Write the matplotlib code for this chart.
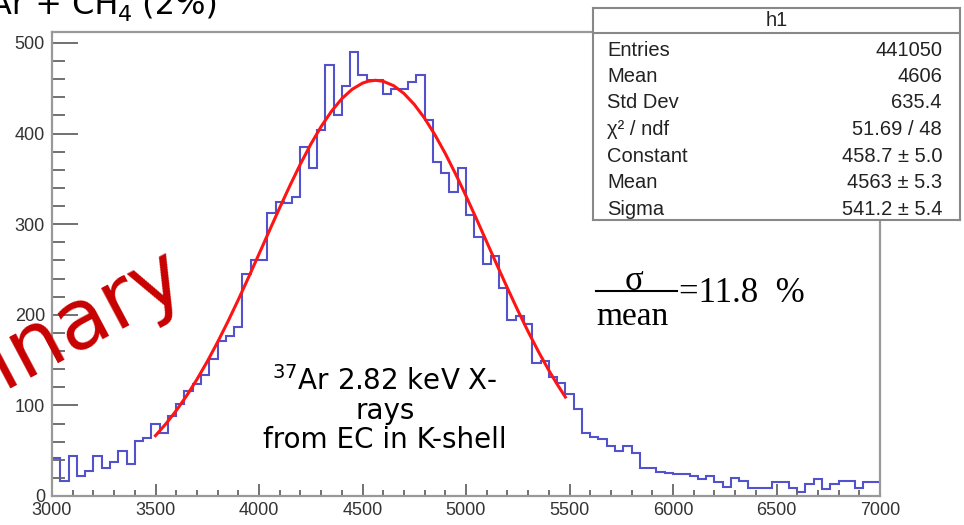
import numpy as np
import matplotlib.pyplot as plt
from matplotlib.lines import Line2D
from matplotlib.ticker import MultipleLocator

# histograma h1: 100 bins de 40 entre 3000 y 7000
bin_lo, bin_hi, n_bins = 3000, 7000, 100
counts = [42, 17, 44, 22, 28, 44, 31, 38, 50, 35,
          61, 64, 80, 70, 88, 102, 116, 124, 133, 151,
          171, 177, 186, 245, 260, 260, 312, 324, 323, 330,
          385, 362, 404, 476, 420, 452, 490, 465, 459, 459,
          444, 449, 449, 457, 465, 415, 369, 356, 335, 362,
          310, 286, 256, 265, 230, 194, 199, 190, 147, 149,
          131, 125, 113, 96, 70, 65, 63, 55, 50, 55,
          48, 31, 31, 26, 25, 24, 24, 22, 19, 22,
          15, 10, 20, 17, 9, 9, 9, 16, 16, 9,
          4, 13, 19, 8, 13, 17, 17, 9, 15, 16]

# curva del ajuste
fit_x = [3500, 3550, 3600, 3650, 3700, 3750, 3800, 3850, 3900, 3950,
         4000, 4050, 4100, 4150, 4200, 4250, 4300, 4350, 4400, 4450,
         4500, 4530, 4563, 4600, 4650, 4700, 4750, 4800, 4850, 4900,
         4950, 5000, 5050, 5100, 5150, 5200, 5250, 5300, 5350, 5400,
         5440, 5480]
fit_y = [66.6, 79.6, 94.2, 110.5, 128.6, 148.4, 169.8, 192.6, 216.6, 241.5,
         267.0, 292.7, 318.1, 342.8, 366.3, 388.1, 407.6, 424.5, 438.4, 448.8,
         455.6, 457.8, 458.7, 457.6, 452.8, 444.2, 432.1, 416.8, 398.5, 377.9,
         355.2, 331.1, 306.0, 280.4, 254.7, 229.5, 204.9, 181.5, 159.3, 138.7,
         123.4, 109.2]

stat_labels = ['Entries', 'Mean', 'Std Dev', 'χ² / ndf', 'Constant', 'Mean', 'Sigma']
stat_values = ['441050', '4606', '635.4', '51.69 / 48', '458.7 ± 5.0', '4563 ± 5.3', '541.2 ± 5.4']

x_ticks = [3000, 3500, 4000, 4500, 5000, 5500, 6000, 6500, 7000]
y_ticks = [0, 100, 200, 300, 400, 500]

W, H = 964, 525
fig = plt.figure(figsize=(W / 100, H / 100), dpi=100)

# Marco principal
ax = fig.add_axes([52 / W, 1 - 496 / H, 828 / W, 464 / H])
edges = np.linspace(bin_lo, bin_hi, n_bins + 1)
ax.stairs(counts, edges, baseline=None, color='#5252cc', lw=1.5)
ax.plot(fit_x, fit_y, color='#ff1414', lw=2.2)

ax.set_xlim(3000, 7000)
ax.set_ylim(0, 512)
ax.set_xticks(x_ticks)
ax.set_yticks(y_ticks)
ax.xaxis.set_minor_locator(MultipleLocator(100))
ax.yaxis.set_minor_locator(MultipleLocator(20))
ax.tick_params(axis='y', which='major', direction='in', length=19, width=1.3, color='#666',
               labelsize=13, labelcolor='#333', pad=5)
ax.tick_params(axis='y', which='minor', direction='in', length=9, width=1.3, color='#666')
ax.tick_params(axis='x', which='major', direction='in', length=9, width=1.3, color='#666',
               labelsize=13, labelcolor='#333', pad=4)
ax.tick_params(axis='x', which='minor', direction='in', length=4.5, width=1.3, color='#666')
for lab in ax.get_xticklabels() + ax.get_yticklabels():
    lab.set_fontfamily('Liberation Sans')
for s in ax.spines.values():
    s.set_color('#999')
    s.set_linewidth(1.6)

# Titulo (cortado arriba), subindice a mano para bajarlo un poco
renderer = fig.canvas.get_renderer()
t_end = fig.text(218 / W, 1 - 14 / H, ' (2%)', ha='right', va='baseline', fontsize=23)
x_px = 218 - t_end.get_window_extent(renderer).width
t_sub = fig.text(x_px / W, 1 - 21 / H, '4', ha='right', va='baseline', fontsize=16)
x_px -= t_sub.get_window_extent(renderer).width
fig.text(x_px / W, 1 - 14 / H, 'Ar + CH', ha='right', va='baseline', fontsize=23)

# Preliminary
fig.text(190 / W, 1 - 289 / H, 'Preliminary', color='#c80000', fontsize=60,
         rotation=28, rotation_mode='anchor', ha='right', va='baseline')

# Texto de la fuente
fig.text(385 / W, 1 - 410 / H, '$^{37}$Ar 2.82 keV X-\nrays\nfrom EC in K-shell',
         ha='center', va='center', multialignment='center', fontsize=20, linespacing=1.05)

# sigma / mean
serif = 'Liberation Serif'
fig.text(634 / W, 1 - 290 / H, 'σ', family=serif, fontsize=25, ha='center', va='baseline')
fig.text(632 / W, 1 - 325 / H, 'mean', family=serif, fontsize=24, ha='center', va='baseline')
fig.add_artist(Line2D([596 / W, 677 / W], [1 - 291 / H, 1 - 291 / H], color='black', lw=1.5))
fig.text(679 / W, 1 - 302 / H, '=11.8  %', family=serif, fontsize=25, ha='left', va='baseline')

# Caja de estadisticas
st = fig.add_axes([593 / W, 1 - 220 / H, 367 / W, 212 / H])
st.set_xlim(593, 960)
st.set_ylim(220, 8)
st.set_xticks([])
st.set_yticks([])
st.set_facecolor('white')
for s in st.spines.values():
    s.set_color('#888')
    s.set_linewidth(1.5)
st.axhline(33, color='#888', lw=1.5)
st.text(777, 20, 'h1', ha='center', va='center', fontsize=14.5, family='Liberation Sans', color='#222')
for i, (lab, val) in enumerate(zip(stat_labels, stat_values)):
    yy = 50 + i * 26.5
    st.text(607, yy, lab, ha='left', va='center', fontsize=14.5, family='Liberation Sans', color='#222')
    st.text(942, yy, val, ha='right', va='center', fontsize=14.5, family='Liberation Sans', color='#222')

fig.savefig('out.png', dpi=100)
